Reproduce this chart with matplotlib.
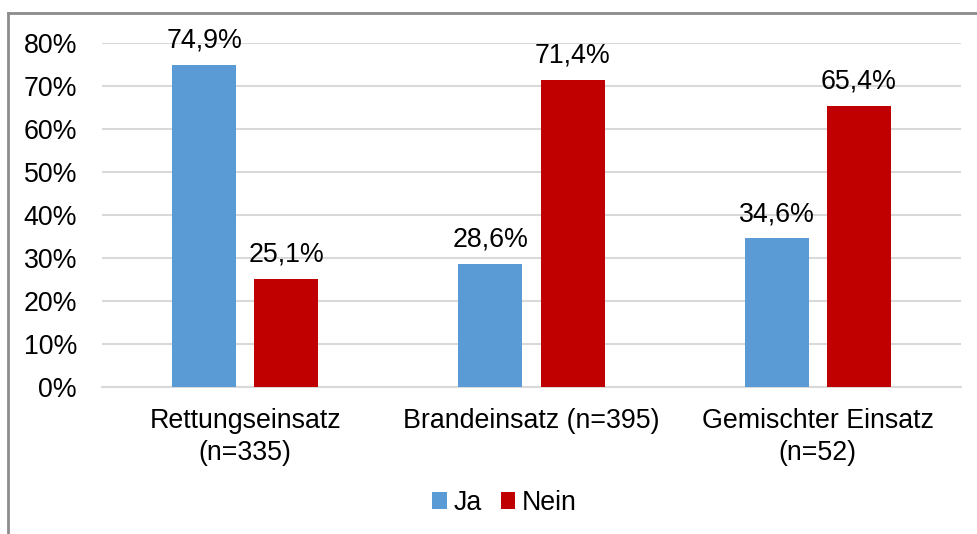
import matplotlib.pyplot as plt
from matplotlib.lines import Line2D
import numpy as np

categories = ['Rettungseinsatz\n(n=335)', 'Brandeinsatz (n=395)', 'Gemischter Einsatz\n(n=52)']
ja = [74.9, 28.6, 34.6]
nein = [25.1, 71.4, 65.4]
yticks = [0, 10, 20, 30, 40, 50, 60, 70, 80]

plt.rcParams['font.family'] = ['Liberation Sans', 'DejaVu Sans']
fs = 19.3

fig = plt.figure(figsize=(9.78, 5.34), dpi=100)
ax = fig.add_axes([102/978, 1-387/534, (961-102)/978, (387-43)/534])

x = np.arange(len(categories))
w = 0.224
off = 0.1435
b1 = ax.bar(x - off, ja, w, color='#5B9BD5', label='Ja', zorder=3)
b2 = ax.bar(x + off, nein, w, color='#C00000', label='Nein', zorder=3)

for bars, vals in ((b1, ja), (b2, nein)):
    for r, v in zip(bars, vals):
        ax.annotate(f'{v:.1f}%'.replace('.', ','), (r.get_x() + r.get_width()/2, v),
                    xytext=(0, 8), textcoords='offset points',
                    ha='center', va='bottom', fontsize=fs)

ax.set_xlim(-0.5, 2.5)
ax.set_ylim(0, 80)
ax.set_yticks(yticks)
ax.set_yticklabels([f'{t}%' for t in yticks], fontsize=fs)
ax.set_xticks(x)
ax.set_xticklabels(categories, fontsize=fs, linespacing=1.3)
ax.tick_params(axis='both', length=0)
ax.tick_params(axis='y', pad=18)
ax.tick_params(axis='x', pad=15)
ax.grid(axis='y', color='#d9d9d9', linewidth=1.5, zorder=0)
for s in ['top', 'right', 'left']:
    ax.spines[s].set_visible(False)
ax.spines['bottom'].set_color('#d9d9d9')
ax.spines['bottom'].set_linewidth(1.5)

fig.legend(loc='center', bbox_to_anchor=(0.516, 1-503/534), ncol=2, frameon=False,
           fontsize=fs, handlelength=0.55, handleheight=0.55, handletextpad=0.25,
           columnspacing=0.7)

# Rahmen oben und links
fig.add_artist(Line2D([8/978, 1], [1-13/534, 1-13/534], transform=fig.transFigure,
                      color='#8c8c8c', linewidth=2))
fig.add_artist(Line2D([8/978, 8/978], [0, 1-13/534], transform=fig.transFigure,
                      color='#8c8c8c', linewidth=2))

fig.savefig('out.png', dpi=100)
